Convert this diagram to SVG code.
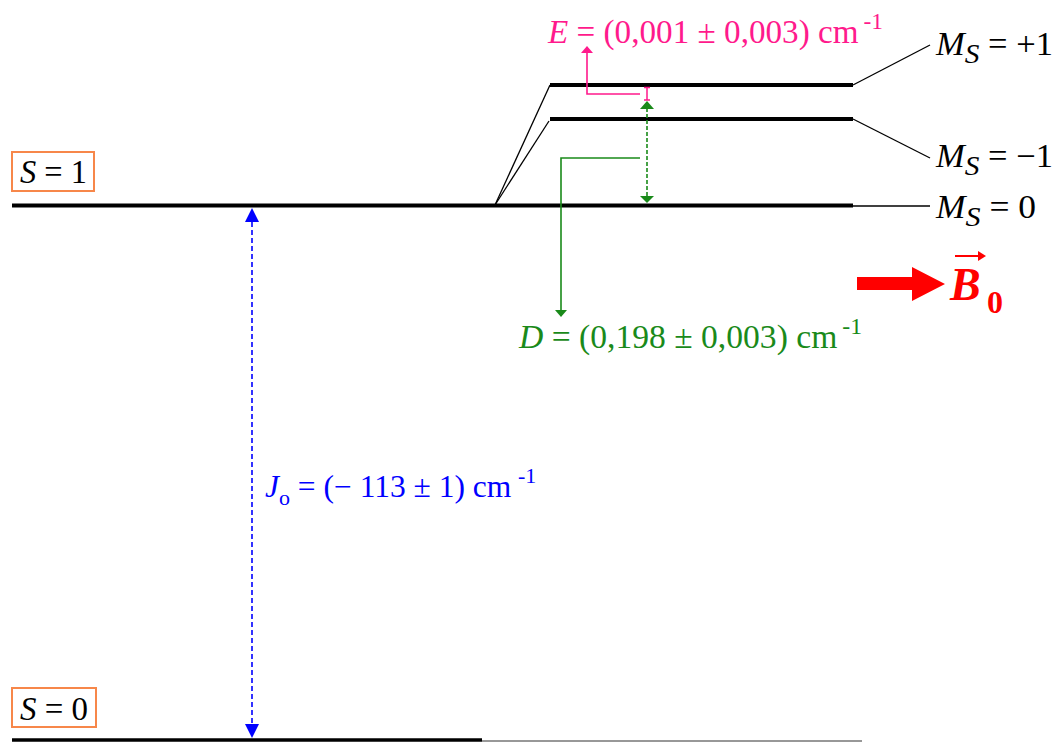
<svg xmlns="http://www.w3.org/2000/svg" width="1057" height="742" viewBox="0 0 1057 742">
<style>
.t{font-family:"Liberation Serif","DejaVu Serif",serif;}
.lv{stroke:#000;stroke-width:4;fill:none;}
.thin{stroke:#000;stroke-width:1.3;fill:none;}
.box{fill:none;stroke:#f7874a;stroke-width:2;}
.it{font-style:italic;}
</style>
<rect width="1057" height="742" fill="#fff"/>
<g id="levels">
<line class="lv" x1="12" y1="205.5" x2="853" y2="205.5"/>
<line class="thin" x1="853" y1="206" x2="930" y2="206"/>
<line class="lv" x1="550" y1="85" x2="853" y2="85"/>
<line class="lv" x1="550" y1="119" x2="853" y2="119"/>
<line class="thin" x1="495" y1="205" x2="550" y2="85"/>
<line class="thin" x1="495" y1="205" x2="549" y2="121"/>
<line class="thin" x1="853" y1="85" x2="930" y2="45"/>
<line class="thin" x1="853" y1="119" x2="930" y2="158"/>
<line x1="12" y1="740" x2="482" y2="740" stroke="#000" stroke-width="3.5"/>
<line x1="482" y1="741" x2="862" y2="741" stroke="#333" stroke-width="1.2"/>
</g>
<g id="S1">
<rect class="box" x="12" y="152" width="82" height="39"/>
<text class="t" x="20" y="183" font-size="33" textLength="67" lengthAdjust="spacingAndGlyphs"><tspan class="it">S</tspan> = 1</text>
</g>
<g id="S0">
<rect class="box" x="12" y="688" width="84" height="39"/>
<text class="t" x="20" y="720" font-size="33" textLength="68" lengthAdjust="spacingAndGlyphs"><tspan class="it">S</tspan> = 0</text>
</g>
<g id="Ms_p1">
<text class="t" x="936" y="55" font-size="33" textLength="117" lengthAdjust="spacingAndGlyphs"><tspan class="it">M</tspan><tspan class="it" dy="8" font-size="28">S</tspan><tspan dy="-8"> = +1</tspan></text>
</g>
<g id="Ms_m1">
<text class="t" x="936" y="167" font-size="33" textLength="117" lengthAdjust="spacingAndGlyphs"><tspan class="it">M</tspan><tspan class="it" dy="8" font-size="28">S</tspan><tspan dy="-8"> = −1</tspan></text>
</g>
<g id="Ms_0">
<text class="t" x="936" y="218" font-size="33" textLength="100" lengthAdjust="spacingAndGlyphs"><tspan class="it">M</tspan><tspan class="it" dy="8" font-size="28">S</tspan><tspan dy="-8"> = 0</tspan></text>
</g>
<g id="connectors">
<line x1="252" y1="222" x2="252" y2="724" stroke="#0000ff" stroke-width="1.6" stroke-dasharray="5,3"/>
<path d="M252,208 L259,222 L245,222 Z" fill="#0000ff"/>
<path d="M252,738 L259,724 L245,724 Z" fill="#0000ff"/>
<line x1="647" y1="108" x2="647" y2="197" stroke="#1a8a1a" stroke-width="1.6" stroke-dasharray="4,2"/>
<path d="M647,101 L654,109 L640,109 Z" fill="#1a8a1a"/>
<path d="M647,203 L654,196 L640,196 Z" fill="#1a8a1a"/>
<path d="M640,158 L561,158 L561,311" stroke="#1a8a1a" stroke-width="1.6" fill="none"/>
<path d="M561,317 L567,310 L555,310 Z" fill="#1a8a1a"/>
<path d="M640,94 L587,94 L587,52" stroke="#ff1a8c" stroke-width="1.6" fill="none"/>
<path d="M587,46 L593,53 L581,53 Z" fill="#ff1a8c"/>
<path d="M644,87.5 L650,87.5 M647,87.5 L647,100 M644,100 L650,100" stroke="#ff1a8c" stroke-width="1.5" fill="none"/>
<path d="M857,277 L912,277 L912,267 L945,284 L912,301 L912,290 L857,290 Z" fill="#ff0000"/>
</g>
<g id="E_label">
<text class="t" x="548" y="43" font-size="34" fill="#ff1a8c" textLength="335" lengthAdjust="spacingAndGlyphs"><tspan class="it">E</tspan> = (0,001 ± 0,003) cm<tspan dx="5" dy="-14" font-size="24">-1</tspan></text>
</g>
<g id="D_label">
<text class="t" x="519" y="348" font-size="34" fill="#1a8a1a" textLength="343" lengthAdjust="spacingAndGlyphs"><tspan class="it">D</tspan> = (0,198 ± 0,003) cm<tspan dx="5" dy="-14" font-size="24">-1</tspan></text>
</g>
<g id="J_label">
<text class="t" x="265" y="497" font-size="31.5" fill="#0000ff"><tspan class="it">J</tspan><tspan dy="8" font-size="22">o</tspan><tspan dy="-8"> = (− 113 ± 1) cm</tspan></text>
<text class="t" x="518" y="483" font-size="22" fill="#0000ff">-1</text>
</g>
<g id="B0">
<text class="t" x="950" y="300" font-size="46" font-weight="bold" font-style="italic" fill="#ff0000">B</text>
<text class="t" x="987" y="313" font-size="32" font-weight="bold" fill="#ff0000">0</text>
<path d="M955,256 L980,256" stroke="#ff0000" stroke-width="2"/>
<path d="M986,256 L978,251 L978,261 Z" fill="#ff0000"/>
</g>
</svg>
